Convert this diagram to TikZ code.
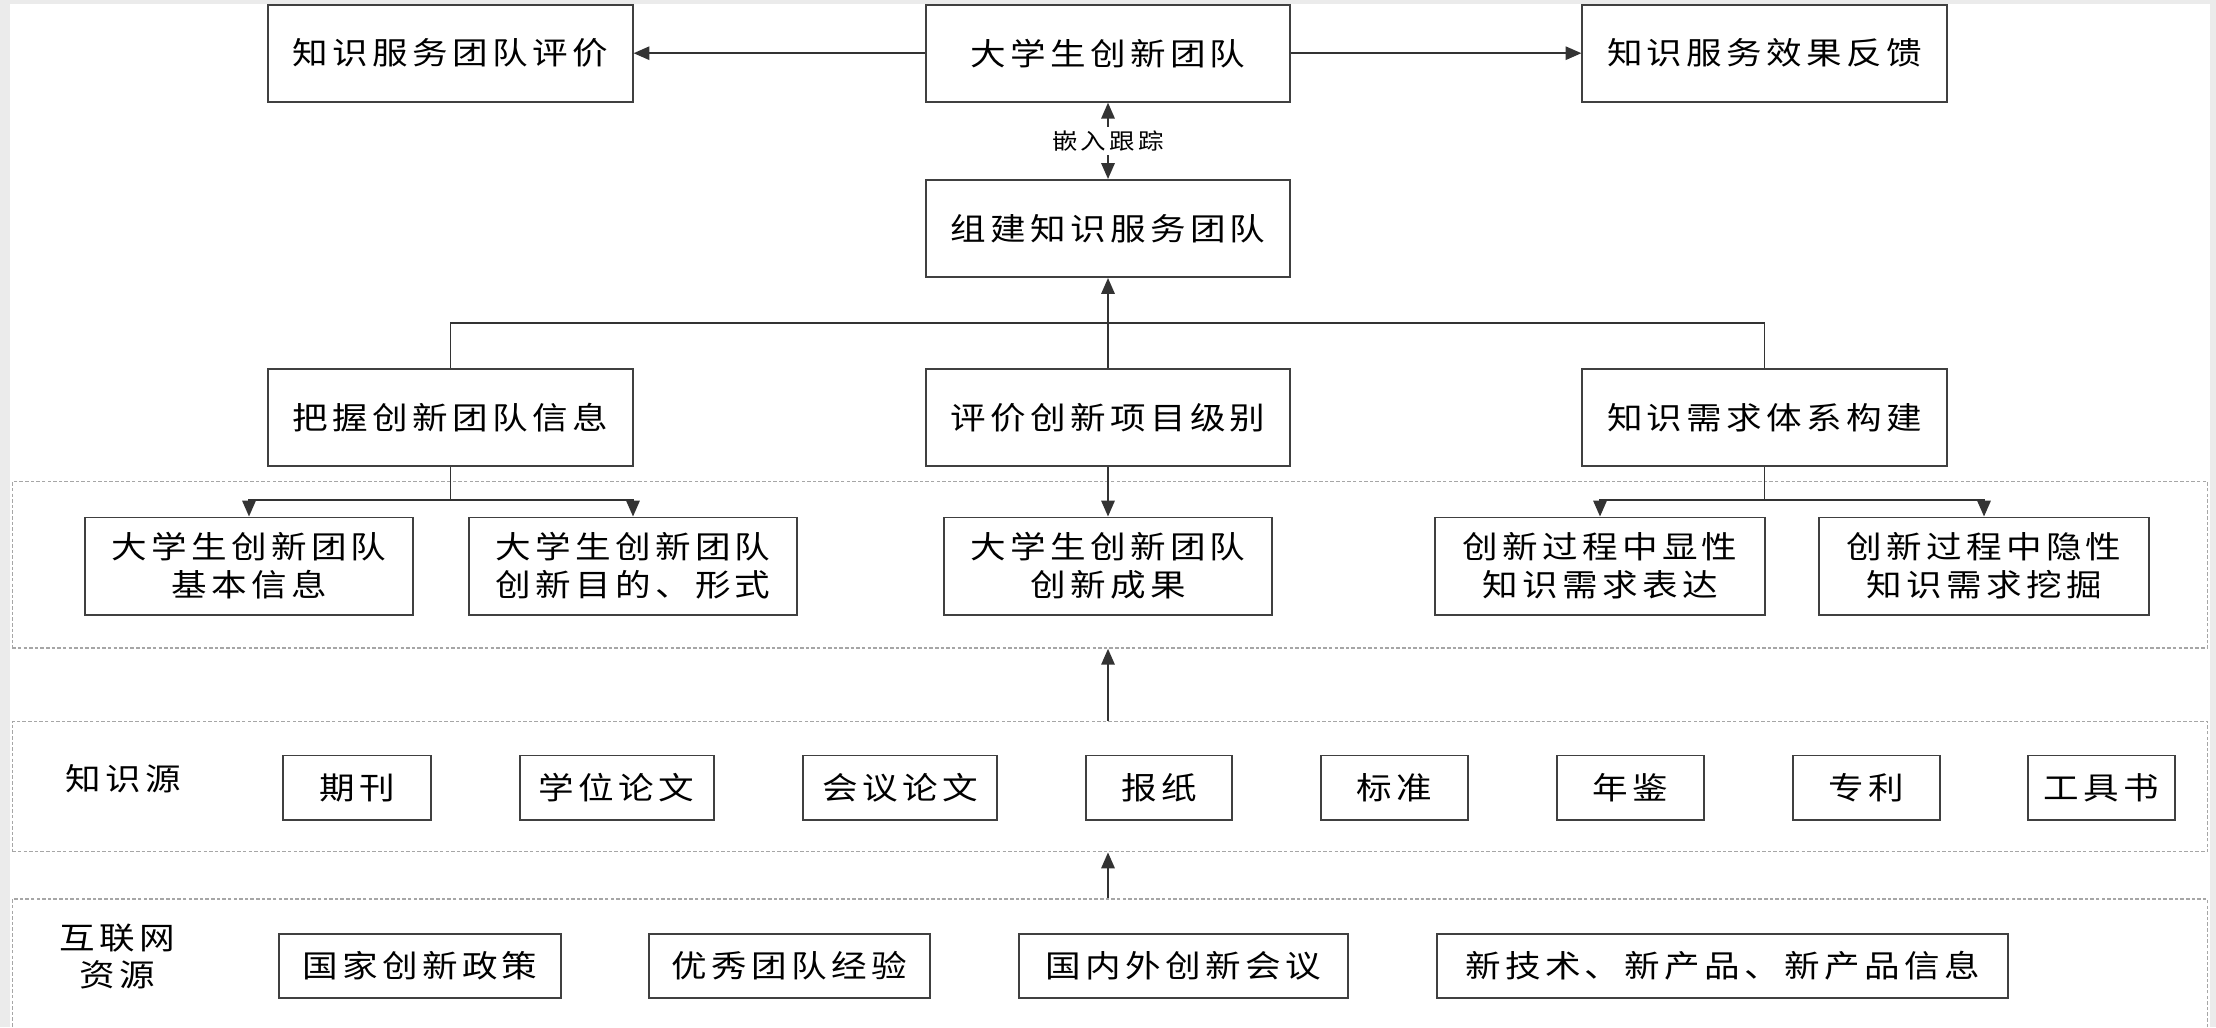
\documentclass[tikz,border=0pt]{standalone}
\usepackage{fontspec}
\newfontfamily\cjkfont[FakeStretch=1.15,LetterSpace=14]{Noto Sans CJK SC}
\usetikzlibrary{arrows.meta}

\begin{document}
\begin{tikzpicture}[x=0.01cm, y=-0.01cm, >={Triangle[length=4.5pt,width=3.8pt]},
  every node/.style={font=\cjkfont\fontsize{8.8pt}{10.8pt}\selectfont, inner sep=0pt, align=center},
  box/.style={draw=black!75, line width=0.55pt, fill=white, minimum height=0.97cm, minimum width=#1},
  srcbox/.style={box=#1, minimum height=0.64cm},
  zone/.style={draw=black!35, line width=0.4pt, dash pattern=on 1pt off 0.6pt, minimum width=21.94cm},
  conn/.style={draw=black!80, line width=0.5pt},
  arr/.style={conn, ->},
  dbl/.style={conn, <->}]
\useasboundingbox (0,0) rectangle (2216,1027);
\fill[black!8] (0,0) rectangle (2216,1027);
\fill[white] (10,4) rectangle (2210,1027);

% dashed layers
\node[zone, minimum height=1.663cm] (zone1) at (1109.9,564.9) {};
\node[zone, minimum height=1.30cm] (zone2) at (1109.9,786.7) {};
\node[zone, minimum height=1.61cm] (zone3) at (1109.9,979.5) {};

% top part
\node[box=3.64cm] (eval) at (450.5,53.2) {知识服务团队评价};
\node[box=3.64cm] (team) at (1108,53.2) {大学生创新团队};
\node[box=3.64cm] (feedback) at (1764.5,53.2) {知识服务效果反馈};
\node[box=3.64cm] (build) at (1108,228.5) {组建知识服务团队};
\node[box=3.64cm] (grasp) at (450.5,417.5) {把握创新团队信息};
\node[box=3.64cm] (rate) at (1108,417.5) {评价创新项目级别};
\node[box=3.64cm] (demand) at (1764.5,417.5) {知识需求体系构建};

% second level
\node[box=3.28cm] (basic) at (249,566) {大学生创新团队\\基本信息};
\node[box=3.28cm] (goal) at (633,566) {大学生创新团队\\创新目的、形式};
\node[box=3.28cm] (result) at (1108,566) {大学生创新团队\\创新成果};
\node[box=3.30cm] (explicit) at (1600,566) {创新过程中显性\\知识需求表达};
\node[box=3.30cm] (implicit) at (1984,566) {创新过程中隐性\\知识需求挖掘};

% knowledge sources
\node (srclabel) at (123,779) {知识源};
\node[srcbox=1.48cm] (journal) at (357,787.5) {期刊};
\node[srcbox=1.94cm] (thesis) at (616.6,787.5) {学位论文};
\node[srcbox=1.94cm] (confpaper) at (900,787.5) {会议论文};
\node[srcbox=1.46cm] (paper) at (1159,787.5) {报纸};
\node[srcbox=1.47cm] (standard) at (1394.5,787.5) {标准};
\node[srcbox=1.47cm] (yearbook) at (1630.5,787.5) {年鉴};
\node[srcbox=1.47cm] (patent) at (1866.5,787.5) {专利};
\node[srcbox=1.47cm] (toolbook) at (2101.5,787.5) {工具书};

% internet resources
\node (netlabel) at (117,956.5) {互联网\\资源};
\node[srcbox=2.82cm] (policy) at (420,966) {国家创新政策};
\node[srcbox=2.81cm] (experience) at (789.5,966) {优秀团队经验};
\node[srcbox=3.29cm] (meeting) at (1183.5,966) {国内外创新会议};
\node[srcbox=5.71cm] (newinfo) at (1722.5,966) {新技术、新产品、新产品信息};

% connectors
\draw[arr] (team) -- (eval);
\draw[arr] (team) -- (feedback);
\draw[dbl] (team) -- node[fill=white, inner sep=1pt, font=\cjkfont\fontsize{6.3pt}{7pt}\selectfont] {嵌入跟踪} (build);
\coordinate (topbus) at (1108,323);
\draw[conn] (grasp.north) |- (topbus) -| (demand.north);
\draw[arr] (rate) -- (build);
\coordinate (gsplit) at (450.5,500);
\draw[conn] (grasp) -- (gsplit);
\draw[arr] (gsplit) -| (basic);
\draw[arr] (gsplit) -| (goal);
\draw[arr] (rate) -- (result);
\coordinate (dsplit) at (1764.5,500);
\draw[conn] (demand) -- (dsplit);
\draw[arr] (dsplit) -| (explicit);
\draw[arr] (dsplit) -| (implicit);
\draw[arr] (zone2.north -| rate) -- (zone1.south -| rate);
\draw[arr] (zone3.north -| rate) -- (zone2.south -| rate);
\end{tikzpicture}
\end{document}
